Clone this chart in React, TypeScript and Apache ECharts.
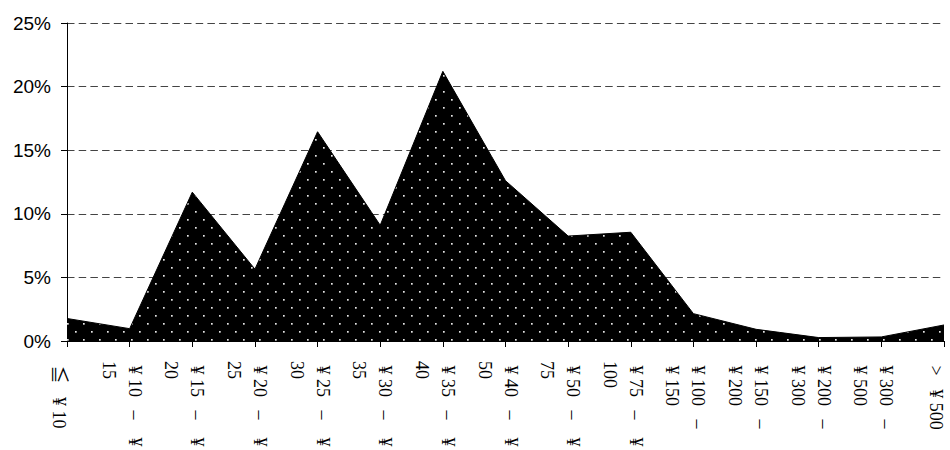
import React, { useEffect, useRef } from "react";
import * as echarts from "echarts";

const categories = [
  "≦ ¥10",
  "¥10 – ¥15",
  "¥15 – ¥20",
  "¥20 – ¥25",
  "¥25 – ¥30",
  "¥30 – ¥35",
  "¥35 – ¥40",
  "¥40 – ¥50",
  "¥50 – ¥75",
  "¥75 – ¥100",
  "¥100 – ¥150",
  "¥150 – ¥200",
  "¥200 – ¥300",
  "¥300 – ¥500",
  "> ¥500",
];

// share of items in each price band (%)
const shares = [1.77, 0.97, 11.7, 5.65, 16.45, 9.1, 21.2, 12.6, 8.25, 8.55, 2.15, 0.92, 0.27, 0.32, 1.26];

const yTicks = { min: 0, max: 25, interval: 5 };

// turn a plain string into rich text with wide yen signs and dashes
function richify(s: string): string {
  return s.replace(/¥/g, "{y|¥}").replace(/–/g, "{d|–}").replace(/≦/g, "{y|≦}").replace(/>/g, "{y|>}");
}

// Excel-style wrapping of the category labels
function wrapLabel(s: string): string {
  const parts = s.split(" – ");
  if (parts.length < 2) return richify(s);
  const lo = parts[0];
  const hi = parts[1];
  if (lo.length >= 4) return richify(lo + " –") + "\n" + richify(hi);
  return richify(lo + " – ¥") + "\n" + hi.slice(1);
}

function makePattern(): HTMLCanvasElement {
  const c = document.createElement("canvas");
  const s = 16;
  c.width = s;
  c.height = s;
  const ctx = c.getContext("2d")!;
  ctx.fillStyle = "#000";
  ctx.fillRect(0, 0, s, s);
  ctx.fillStyle = "#e6e6e6";
  ctx.fillRect(3, 3, 1.7, 1.7);
  ctx.fillRect(11, 11, 1.7, 1.7);
  return c;
}

const labelFont = "'Liberation Serif', 'Noto Sans CJK JP', serif";

export default function App() {
  const ref = useRef<HTMLDivElement>(null);
  useEffect(() => {
    if (!ref.current) return;
    const chart = echarts.init(ref.current, undefined, { renderer: "svg" });
    chart.setOption({
      animation: false,
      backgroundColor: "#fff",
      grid: { left: 67, right: 6, top: 23, bottom: 109, containLabel: false, outerBoundsMode: "none" } as any,
      xAxis: {
        type: "category",
        data: categories,
        boundaryGap: false,
        axisLine: { show: true, lineStyle: { color: "#000", width: 1 } },
        axisTick: { show: true, length: 6, lineStyle: { color: "#000" } },
        axisLabel: {
          rotate: -90,
          interval: 0,
          margin: 20,
          fontFamily: labelFont,
          fontSize: 18,
          lineHeight: 26,
          color: "#000",
          padding: [16, 0, 0, 0],
          formatter: (v: string) => wrapLabel(v),
          rich: {
            y: {
              fontFamily: labelFont,
              fontSize: 18,
              lineHeight: 26,
              color: "#000",
              padding: [0, 4.5, 0, 4.5],
            },
            d: {
              fontFamily: labelFont,
              fontSize: 18,
              lineHeight: 26,
              color: "#000",
              padding: [0, 9, 0, 9],
            },
          },
        },
        splitLine: { show: false },
      },
      yAxis: {
        type: "value",
        min: yTicks.min,
        max: yTicks.max,
        interval: yTicks.interval,
        axisLine: { show: true, lineStyle: { color: "#000", width: 1 } },
        axisTick: { show: true, length: 6, lineStyle: { color: "#000" } },
        axisLabel: {
          formatter: "{value}%",
          fontFamily: "'Liberation Sans', Arial, sans-serif",
          fontSize: 19,
          color: "#000",
          margin: 16,
        },
        splitLine: {
          show: true,
          lineStyle: { color: "#444", width: 1, type: [7.5, 4.2] },
        },
      },
      series: [
        {
          type: "line",
          data: shares,
          symbol: "none",
          lineStyle: { color: "#000", width: 1 },
          areaStyle: {
            color: { image: makePattern(), repeat: "repeat" } as any,
            opacity: 1,
          },
          z: 3,
        },
      ],
    });
    return () => chart.dispose();
  }, []);
  return <div ref={ref} style={{ width: 950, height: 450, position: "absolute", left: 0, top: 0 }} />;
}
